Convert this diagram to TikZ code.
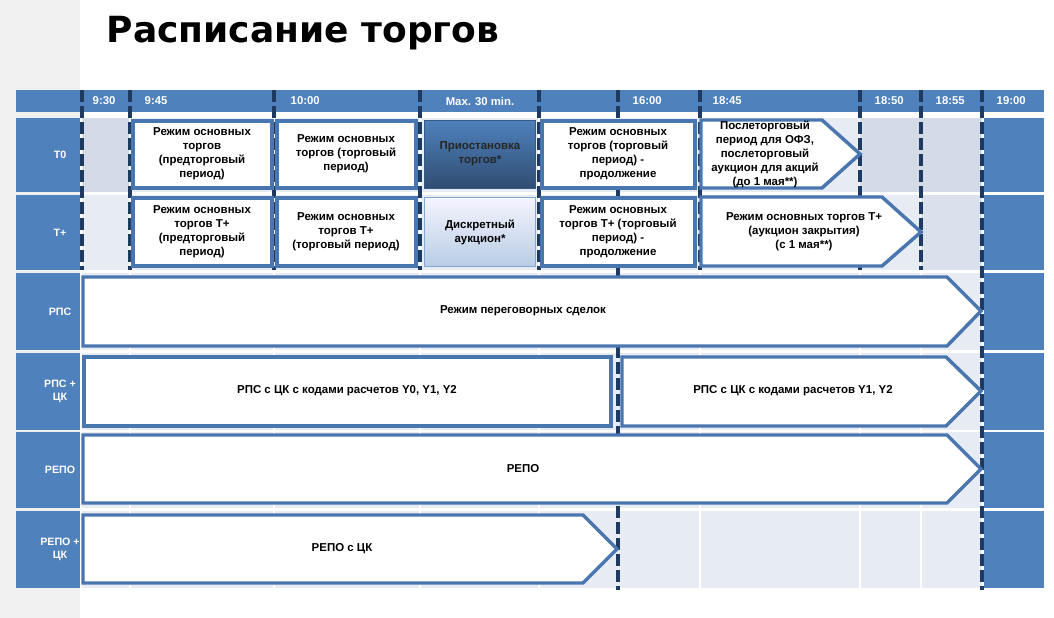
\documentclass[tikz,border=0pt]{standalone}
\usepackage{fontspec}
\setmainfont{Liberation Sans}
\newfontfamily\titlefont{DejaVu Sans}
\begin{document}
\begin{tikzpicture}[x=0.75pt,y=-0.75pt,
  hdr/.style={font=\bfseries\fontsize{8.5}{10}\selectfont,text=white,anchor=west},
  lbl/.style={font=\bfseries\fontsize{8}{10}\selectfont,text=white,align=center},
  txt/.style={font=\bfseries\fontsize{8.6}{10.5}\selectfont,align=center,text=black},
  bx/.style={draw=bord,line width=2.6pt,fill=white},
  sep/.style={draw=dsh,line width=3pt,dash pattern=on 9pt off 3pt}]
\definecolor{hb}{HTML}{4F81BD}
\definecolor{bord}{HTML}{4A76B0}
\definecolor{cellA}{HTML}{E7EBF3}
\definecolor{cellB}{HTML}{D3DBE8}
\definecolor{dsh}{HTML}{1F3A60}
\useasboundingbox (0,0) rectangle (1054,618);
\fill[white] (0,0) rectangle (1054,618);
\fill[black!6] (0,0) rectangle (80,618);
\node[font=\titlefont\bfseries\fontsize{27}{30}\selectfont,anchor=west] (title) at (102,33) {Расписание торгов};
% header
\fill[hb] (16,90) rectangle (1044,112);
\foreach \x/\t in {88/9:30,140/9:45,286/10:00,628/16:00,708/18:45,870/18:50,931/18:55,992/19:00}
  \node[hdr] at (\x,101) {\t};
\node[hdr,anchor=center] (mx) at (480,101) {Max. 30 min.};
% rows
\foreach \ya/\yb/\t in {118/192/T0,195/270/T+,273/350/РПС,353/430/{РПС +\\ЦК},432/508/РЕПО,511/588/{РЕПО +\\ЦК}}{
  \fill[hb] (16,\ya) rectangle (80,\yb);
  \node[lbl] at (60,{(\ya+\yb)/2}) {\t};
  \fill[cellA] (82,\ya) rectangle (982,\yb);
  \fill[hb] (984,\ya) rectangle (1044,\yb);
  \foreach \x in {130,274,420,539,700,860,921} \draw[white,line width=1.5pt] (\x,\ya) -- (\x,\yb);
}
\fill[cellB] (82,118) rectangle (129,192);
\fill[cellB] (860,118) rectangle (982,192);
\fill[cellB!60!cellA] (921,195) rectangle (982,270);
% separators
\foreach \x in {82,130,274,420,539,700,860,921}
  \draw[sep] (\x,90) -- (\x,270);
\draw[sep] (618,90) -- (618,590);
\draw[sep] (982,90) -- (982,590);
% T0 row
\draw[bx] (133,121) rectangle (272,188);
\node[txt] (a1) at (202,154) {Режим основных\\торгов\\(предторговый\\период)};
\draw[bx] (277,121) rectangle (416,188);
\node[txt] (a2) at (346,154) {Режим основных\\торгов (торговый\\период)};
\shade[top color=hb,bottom color=hb!60!black,draw=hb!70!black] (424,120) rectangle (535,188);
\node[txt,text=black!85] (a3) at (480,154) {Приостановка\\торгов*};
\draw[bx] (542,121) rectangle (695,188);
\node[txt] (a4) at (618,154) {Режим основных\\торгов (торговый\\период) -\\продолжение};
\draw[bx] (701,120) -- (822,120) -- (860,154) -- (822,188) -- (701,188) -- cycle;
\node[txt] (a5) at (765,154) {Послеторговый\\период для ОФЗ,\\послеторговый\\аукцион для акций\\(до 1 мая**)};
% T+ row
\draw[bx] (133,198) rectangle (272,266);
\node[txt] (b1) at (202,232) {Режим основных\\торгов Т+\\(предторговый\\период)};
\draw[bx] (277,198) rectangle (416,266);
\node[txt] (b2) at (346,232) {Режим основных\\торгов Т+\\(торговый период)};
\shade[top color=blue!4,bottom color=hb!40,draw=hb!70] (424,197) rectangle (535,266);
\node[txt] (b3) at (480,232) {Дискретный\\аукцион*};
\draw[bx] (542,198) rectangle (695,266);
\node[txt] (b4) at (618,232) {Режим основных\\торгов Т+ (торговый\\период) -\\продолжение};
\draw[bx] (701,197) -- (882,197) -- (921,232) -- (882,266) -- (701,266) -- cycle;
\node[txt] (b5) at (804,232) {Режим основных торгов Т+\\(аукцион закрытия)\\(с 1 мая**)};
% РПС
\draw[bx] (83,277) -- (947,277) -- (981,311) -- (947,346) -- (83,346) -- cycle;
\node[txt] (c1) at (523,311) {Режим переговорных сделок};
% РПС+ЦК
\draw[bx] (84,357) rectangle (611,426);
\node[txt] (d1) at (347,391) {РПС с ЦК с кодами расчетов Y0, Y1, Y2};
\draw[bx] (622,357) -- (946,357) -- (981,391) -- (946,426) -- (622,426) -- cycle;
\node[txt] (d2) at (793,391) {РПС с ЦК с кодами расчетов Y1, Y2};
% РЕПО
\draw[bx] (83,435) -- (947,435) -- (981,469) -- (947,503) -- (83,503) -- cycle;
\node[txt] (e1) at (523,469) {РЕПО};
% РЕПО+ЦК
\draw[bx] (83,515) -- (583,515) -- (617,549) -- (583,583) -- (83,583) -- cycle;
\node[txt] (f1) at (342,549) {РЕПО с ЦК};
\end{tikzpicture}
\end{document}
